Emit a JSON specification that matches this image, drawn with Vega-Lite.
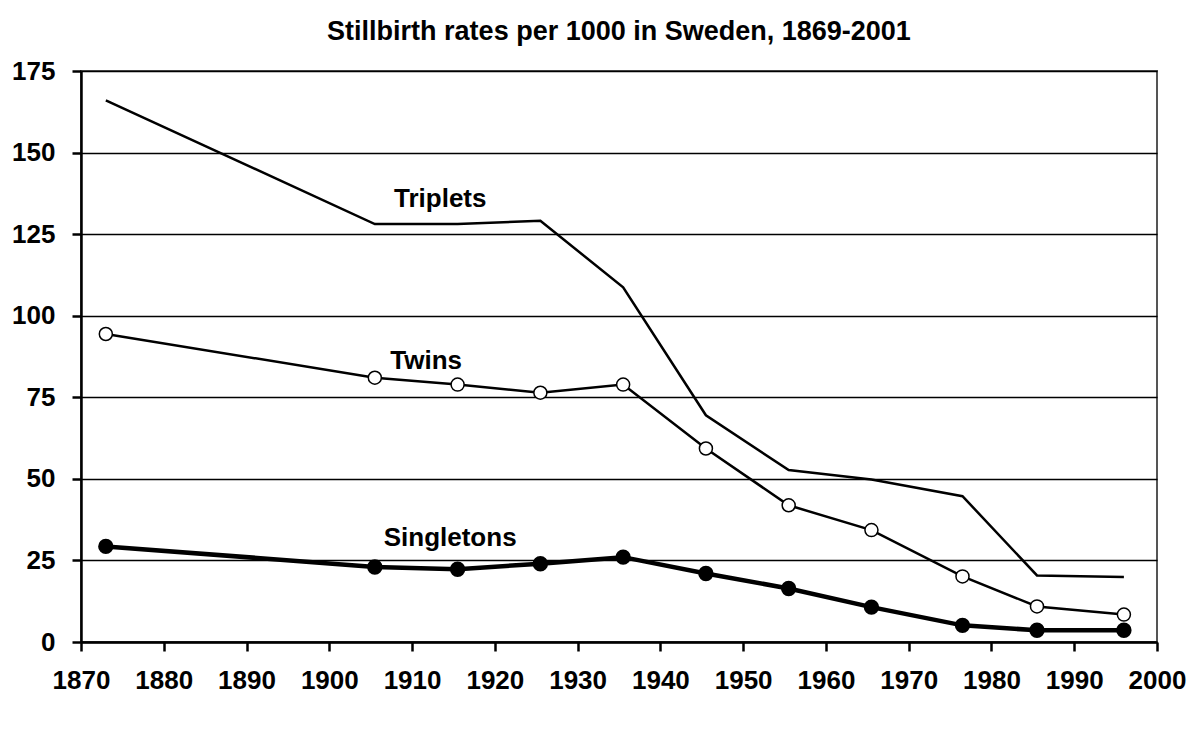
{
  "$schema": "https://vega.github.io/schema/vega-lite/v6.json",
  "width": 1076,
  "height": 571,
  "autosize": "none",
  "padding": {"left": 81, "top": 71, "right": 45, "bottom": 89},
  "background": "white",
  "title": {
    "text": "Stillbirth rates per 1000 in Sweden, 1869-2001",
    "font": "Liberation Sans",
    "fontSize": 27,
    "fontWeight": "bold",
    "color": "black",
    "anchor": "middle",
    "offset": 12
  },
  "config": {
    "view": {"stroke": "#555", "strokeWidth": 2},
    "axis": {
      "labelFont": "Liberation Sans",
      "labelFontWeight": "bold",
      "labelFontSize": 26,
      "labelColor": "black",
      "labelOverlap": false,
      "labelFlush": false,
      "labelBound": false,
      "domainColor": "black",
      "domainWidth": 2.5,
      "tickColor": "black",
      "tickWidth": 2.5,
      "tickSize": 9,
      "gridColor": "black",
      "gridWidth": 1.5,
      "gridOpacity": 1,
      "title": null
    }
  },
  "datasets": {
    "rates": [
      {"series": "Triplets", "year": 1873, "rate": 166},
      {"series": "Triplets", "year": 1905.5, "rate": 128.1},
      {"series": "Triplets", "year": 1915.5, "rate": 128.1},
      {"series": "Triplets", "year": 1925.5, "rate": 129.1},
      {"series": "Triplets", "year": 1935.5, "rate": 108.7},
      {"series": "Triplets", "year": 1945.5, "rate": 69.5},
      {"series": "Triplets", "year": 1955.5, "rate": 52.7},
      {"series": "Triplets", "year": 1965.5, "rate": 49.8},
      {"series": "Triplets", "year": 1976.5, "rate": 44.7},
      {"series": "Triplets", "year": 1985.5, "rate": 20.4},
      {"series": "Triplets", "year": 1996, "rate": 19.9},
      {"series": "Twins", "year": 1873, "rate": 94.4},
      {"series": "Twins", "year": 1905.5, "rate": 81.0},
      {"series": "Twins", "year": 1915.5, "rate": 78.9},
      {"series": "Twins", "year": 1925.5, "rate": 76.4},
      {"series": "Twins", "year": 1935.5, "rate": 78.9},
      {"series": "Twins", "year": 1945.5, "rate": 59.3},
      {"series": "Twins", "year": 1955.5, "rate": 41.9},
      {"series": "Twins", "year": 1965.5, "rate": 34.3},
      {"series": "Twins", "year": 1976.5, "rate": 20.1},
      {"series": "Twins", "year": 1985.5, "rate": 10.9},
      {"series": "Twins", "year": 1996, "rate": 8.4},
      {"series": "Singletons", "year": 1873, "rate": 29.3},
      {"series": "Singletons", "year": 1905.5, "rate": 23.0},
      {"series": "Singletons", "year": 1915.5, "rate": 22.3},
      {"series": "Singletons", "year": 1925.5, "rate": 24.0},
      {"series": "Singletons", "year": 1935.5, "rate": 26.0},
      {"series": "Singletons", "year": 1945.5, "rate": 21.0},
      {"series": "Singletons", "year": 1955.5, "rate": 16.4},
      {"series": "Singletons", "year": 1965.5, "rate": 10.7},
      {"series": "Singletons", "year": 1976.5, "rate": 5.1},
      {"series": "Singletons", "year": 1985.5, "rate": 3.6},
      {"series": "Singletons", "year": 1996, "rate": 3.6}
    ],
    "labels": [
      {"label": "Triplets", "year": 1913.4, "rate": 133.3},
      {"label": "Twins", "year": 1911.7, "rate": 83.8},
      {"label": "Singletons", "year": 1914.6, "rate": 29.3}
    ]
  },
  "encoding": {
    "x": {
      "field": "year",
      "type": "quantitative",
      "scale": {"domain": [1870, 2000], "nice": false, "zero": false},
      "axis": {"values": [1870, 1880, 1890, 1900, 1910, 1920, 1930, 1940, 1950, 1960, 1970, 1980, 1990, 2000], "format": "d", "grid": false, "labelPadding": 16}
    },
    "y": {
      "field": "rate",
      "type": "quantitative",
      "scale": {"domain": [0, 175], "nice": false},
      "axis": {"values": [0, 25, 50, 75, 100, 125, 150, 175], "grid": true, "labelPadding": 17}
    }
  },
  "layer": [
    {
      "data": {"name": "rates"},
      "transform": [{"filter": "datum.series === 'Triplets'"}],
      "mark": {"type": "line", "color": "black", "strokeWidth": 2.5},
      "encoding": {}
    },
    {
      "data": {"name": "rates"},
      "transform": [{"filter": "datum.series === 'Twins'"}],
      "mark": {"type": "line", "color": "black", "strokeWidth": 2.5},
      "encoding": {}
    },
    {
      "data": {"name": "rates"},
      "transform": [{"filter": "datum.series === 'Singletons'"}],
      "mark": {"type": "line", "color": "black", "strokeWidth": 4.5},
      "encoding": {}
    },
    {
      "data": {"name": "rates"},
      "transform": [{"filter": "datum.series === 'Twins'"}],
      "mark": {"type": "point", "shape": "circle", "filled": true, "fill": "white", "stroke": "black", "strokeWidth": 1.5, "size": 170, "opacity": 1}
    },
    {
      "data": {"name": "rates"},
      "transform": [{"filter": "datum.series === 'Singletons'"}],
      "mark": {"type": "point", "shape": "circle", "filled": true, "fill": "black", "stroke": "black", "size": 180, "opacity": 1}
    },
    {
      "data": {"name": "labels"},
      "mark": {"type": "text", "font": "Liberation Sans", "fontWeight": "bold", "fontSize": 26, "color": "black", "align": "center", "baseline": "alphabetic"},
      "encoding": {"text": {"field": "label"}}
    }
  ]
}
